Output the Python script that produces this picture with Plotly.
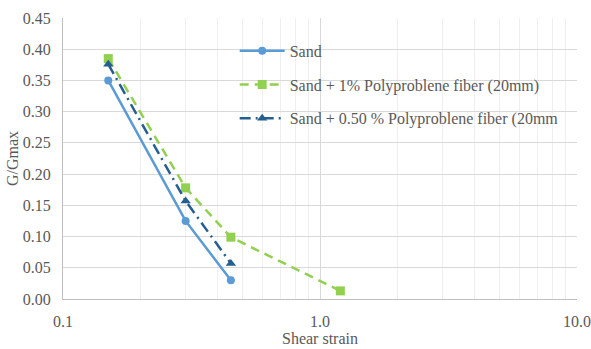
import plotly.graph_objects as go

# Shear strain vs. normalised shear modulus for three soil mixes
strain_sand = [0.15, 0.30, 0.45]
ratio_sand = [0.350, 0.125, 0.030]

strain_pp1 = [0.15, 0.30, 0.45, 1.20]
ratio_pp1 = [0.385, 0.178, 0.099, 0.013]

strain_pp05 = [0.15, 0.30, 0.45]
ratio_pp05 = [0.376, 0.157, 0.057]

names = [
    "Sand",
    "Sand + 1% Polyproblene fiber (20mm)",
    "Sand + 0.50 % Polyproblene fiber (20mm",
]

x_tickvals = [0.1, 1.0, 10.0]
x_ticktext = ["0.1", "1.0", "10.0"]
y_tickvals = [0.00, 0.05, 0.10, 0.15, 0.20, 0.25, 0.30, 0.35, 0.40, 0.45]

FONT = "Liberation Serif"
GREY = "#595959"

fig = go.Figure()
fig.add_trace(go.Scatter(
    x=strain_sand, y=ratio_sand, name=names[0], mode="lines+markers",
    line=dict(color="#5B9BD5", width=2.5),
    marker=dict(symbol="circle", size=8, color="#5B9BD5"),
    legendgroup="a",
))
fig.add_trace(go.Scatter(
    x=strain_pp1, y=ratio_pp1, name=names[1], mode="lines+markers",
    line=dict(color="#92D050", width=2.5, dash="9px,6px"),
    marker=dict(symbol="square", size=9, color="#92D050"),
    legendgroup="b",
))
fig.add_trace(go.Scatter(
    x=strain_pp05, y=ratio_pp05, name=names[2], mode="lines+markers",
    line=dict(color="#255E91", width=2.5, dash="11px,5px,2px,5px"),
    marker=dict(symbol="triangle-up", size=9, color="#255E91"),
    legendgroup="c",
))

fig.update_layout(
    width=591, height=349,
    margin=dict(l=63, r=14, t=18, b=50),
    paper_bgcolor="white", plot_bgcolor="white",
    font=dict(family=FONT, size=16, color=GREY),
    legend=dict(
        x=0.334, y=0.944, xanchor="left", yanchor="top",
        bgcolor="rgba(0,0,0,0)", tracegroupgap=10,
        font=dict(family=FONT, size=16, color=GREY),
        traceorder="grouped", itemwidth=45,
    ),
)

fig.update_xaxes(
    type="log", range=[-1, 1], automargin=False,
    tickvals=x_tickvals, ticktext=x_ticktext,
    tickfont=dict(family=FONT, size=16, color=GREY),
    showgrid=True, gridcolor="#D9D9D9", gridwidth=1,
    minor=dict(showgrid=True, gridcolor="#EFEFEF", tickvals=[
        0.2, 0.3, 0.4, 0.5, 0.6, 0.7, 0.8, 0.9,
        2, 3, 4, 5, 6, 7, 8, 9]),
    showline=True, linecolor="#BFBFBF", linewidth=1,
    ticks="", ticklabelstandoff=8,
    title=dict(text="Shear strain", standoff=2,
               font=dict(family=FONT, size=16, color=GREY)),
    zeroline=False,
)
fig.update_yaxes(
    range=[0, 0.45], tickvals=y_tickvals, tickformat=".2f", automargin=False,
    tickfont=dict(family=FONT, size=16, color=GREY),
    showgrid=True, gridcolor="#D9D9D9", gridwidth=1,
    showline=True, linecolor="#BFBFBF", linewidth=1,
    ticks="", ticklabelstandoff=8,
    title=dict(text="G/Gmax", standoff=0,
               font=dict(family=FONT, size=16, color=GREY)),
    zeroline=False,
)

fig.write_html("out.html")
